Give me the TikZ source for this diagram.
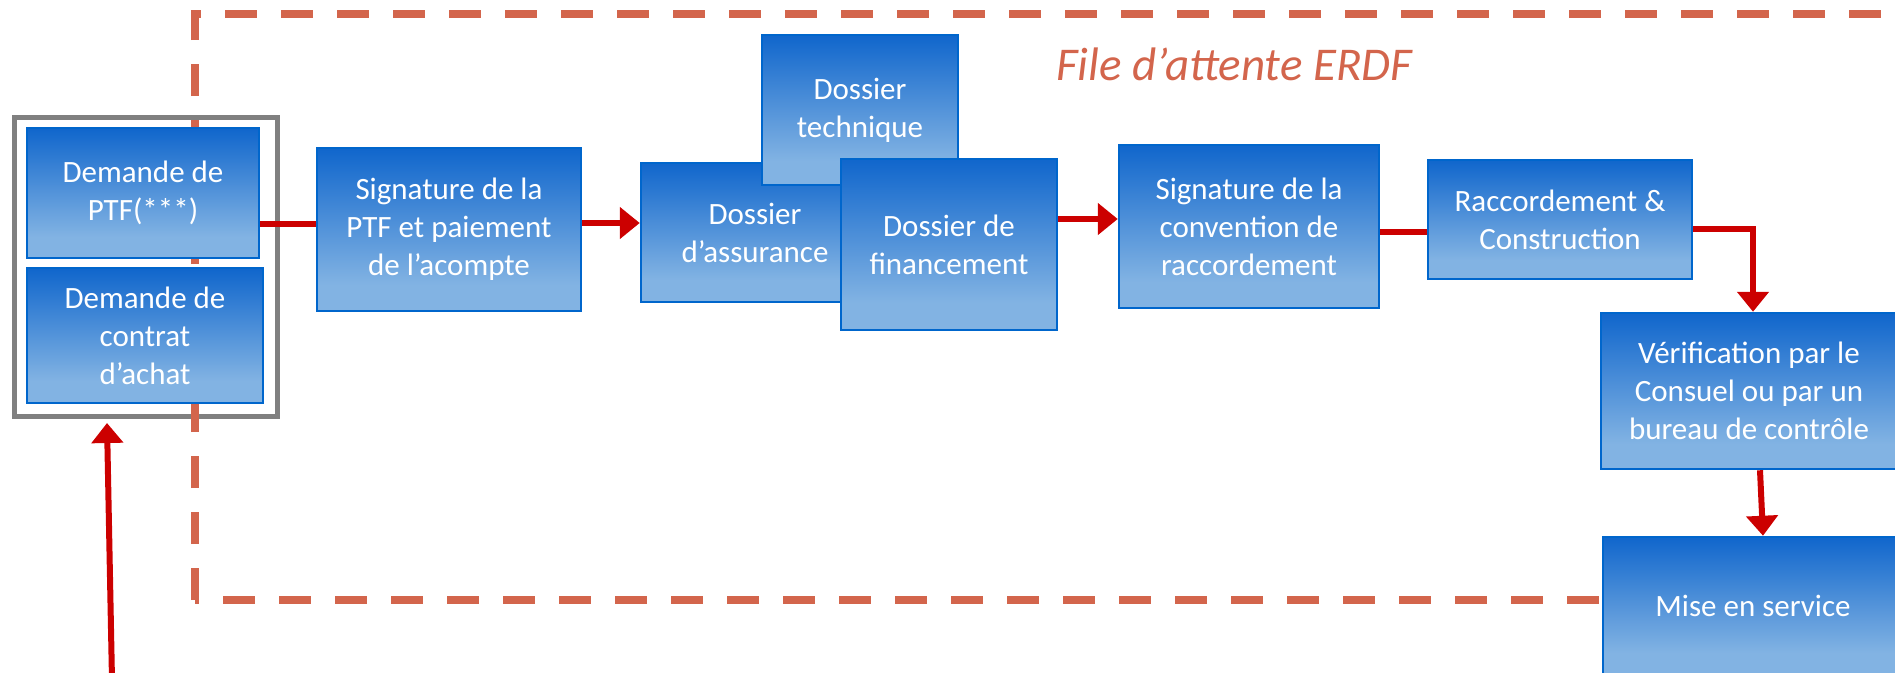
\documentclass[tikz,border=0pt]{standalone}
\usepackage{fontspec}
\setmainfont{Carlito}
\usetikzlibrary{arrows.meta,calc}
\definecolor{boxdark}{RGB}{16,102,204}
\definecolor{boxlight}{RGB}{130,179,227}
\definecolor{boxline}{RGB}{0,102,204}
\definecolor{erdf}{RGB}{211,101,76}
\definecolor{arrowred}{RGB}{204,0,0}
\definecolor{grpgray}{RGB}{128,128,128}
\pgfdeclareverticalshading{boxgrad}{100bp}{color(0bp)=(boxlight); color(25bp)=(boxlight); color(33bp)=(boxlight); color(75bp)=(boxdark); color(100bp)=(boxdark)}
\begin{document}
\begin{tikzpicture}[x=1pt,y=-1pt,
  stepbox/.style={draw=boxline, line width=2.5pt, shading=boxgrad, text=white, align=center, inner sep=0pt, font=\fontsize{31}{38}\selectfont},
  conn/.style={draw=arrowred, line width=6pt},
  arr/.style={conn, -{Triangle[width=31pt,length=20pt]}},
  frame/.style={draw=erdf, line width=7.5pt, dash pattern=on 32pt off 24pt},
  ]
\useasboundingbox (0,0) rectangle (1895,672);
\clip (0,0) rectangle (1895,672);

% group box
\node[draw=grpgray, line width=5pt, inner sep=0pt, minimum width=263pt, minimum height=299pt] (grp) at (146,267) {};

% dashed frame
\draw[frame] (195,600) -- (195,14) -- (1960,14);
\draw[frame, dash phase=28pt] (195,600) -- (1650,600);

% title
\node[anchor=base west, text=erdf, font=\itshape\fontsize{47}{56}\selectfont, inner sep=0pt] (title) at (1056,80) {File d’attente ERDF};

% boxes
\node[stepbox, minimum width=232pt, minimum height=130pt] (ptf) at (143,193) {Demande de\\PTF(***)};
\node[stepbox, minimum width=236pt, minimum height=135pt] (ach) at (145,335.5) {Demande de\\contrat\\d’achat};
\node[stepbox, minimum width=264pt, minimum height=163pt] (sig1) at (449,229.5) {Signature de la\\PTF et paiement\\de l’acompte};
\node[stepbox, minimum width=228pt, minimum height=139pt] (assur) at (755,232.5) {Dossier\\d’assurance};
\node[stepbox, minimum width=196pt, minimum height=150pt] (tech) at (860,110) {Dossier\\technique};
\node[stepbox, minimum width=216pt, minimum height=171pt] (fin) at (949,244.5) {Dossier de\\financement};
\node[stepbox, minimum width=260pt, minimum height=163pt] (sig2) at (1249,226.5) {Signature de la\\convention de\\raccordement};
\node[stepbox, minimum width=264pt, minimum height=119pt] (racc) at (1560,219.5) {Raccordement \&\\Construction};
\node[stepbox, minimum width=296pt, minimum height=156pt] (verif) at (1749,391) {Vérification par le\\Consuel ou par un\\bureau de contrôle};
\node[stepbox, minimum width=300pt, minimum height=138pt] (mise) at (1753,606) {Mise en service};

% connectors
\coordinate (p1) at ([yshift=-31pt]ptf.east);
\draw[conn] (p1) -- (p1 -| sig1.west);
\coordinate (p2) at ([yshift=6.5pt]sig1.east);
\draw[arr] (p2) -- (p2 -| assur.west);
\coordinate (p3) at ([yshift=25.5pt]fin.east);
\draw[arr] (p3) -- (p3 -| sig2.west);
\coordinate (p4) at ([yshift=-5.5pt]sig2.east);
\draw[conn] (p4) -- (p4 -| racc.west);
\coordinate (p5) at ([yshift=-9.5pt]racc.east);
\coordinate (p6) at ([xshift=4pt]verif.north);
\draw[arr] (p5) -| (p6);
\draw[arr] ([xshift=11pt]verif.south) -- ([xshift=10pt]mise.north);
\coordinate (src) at (112,680);
\draw[arr] (src) -- ([xshift=-39pt,yshift=-4pt]grp.south);
\end{tikzpicture}
\end{document}
